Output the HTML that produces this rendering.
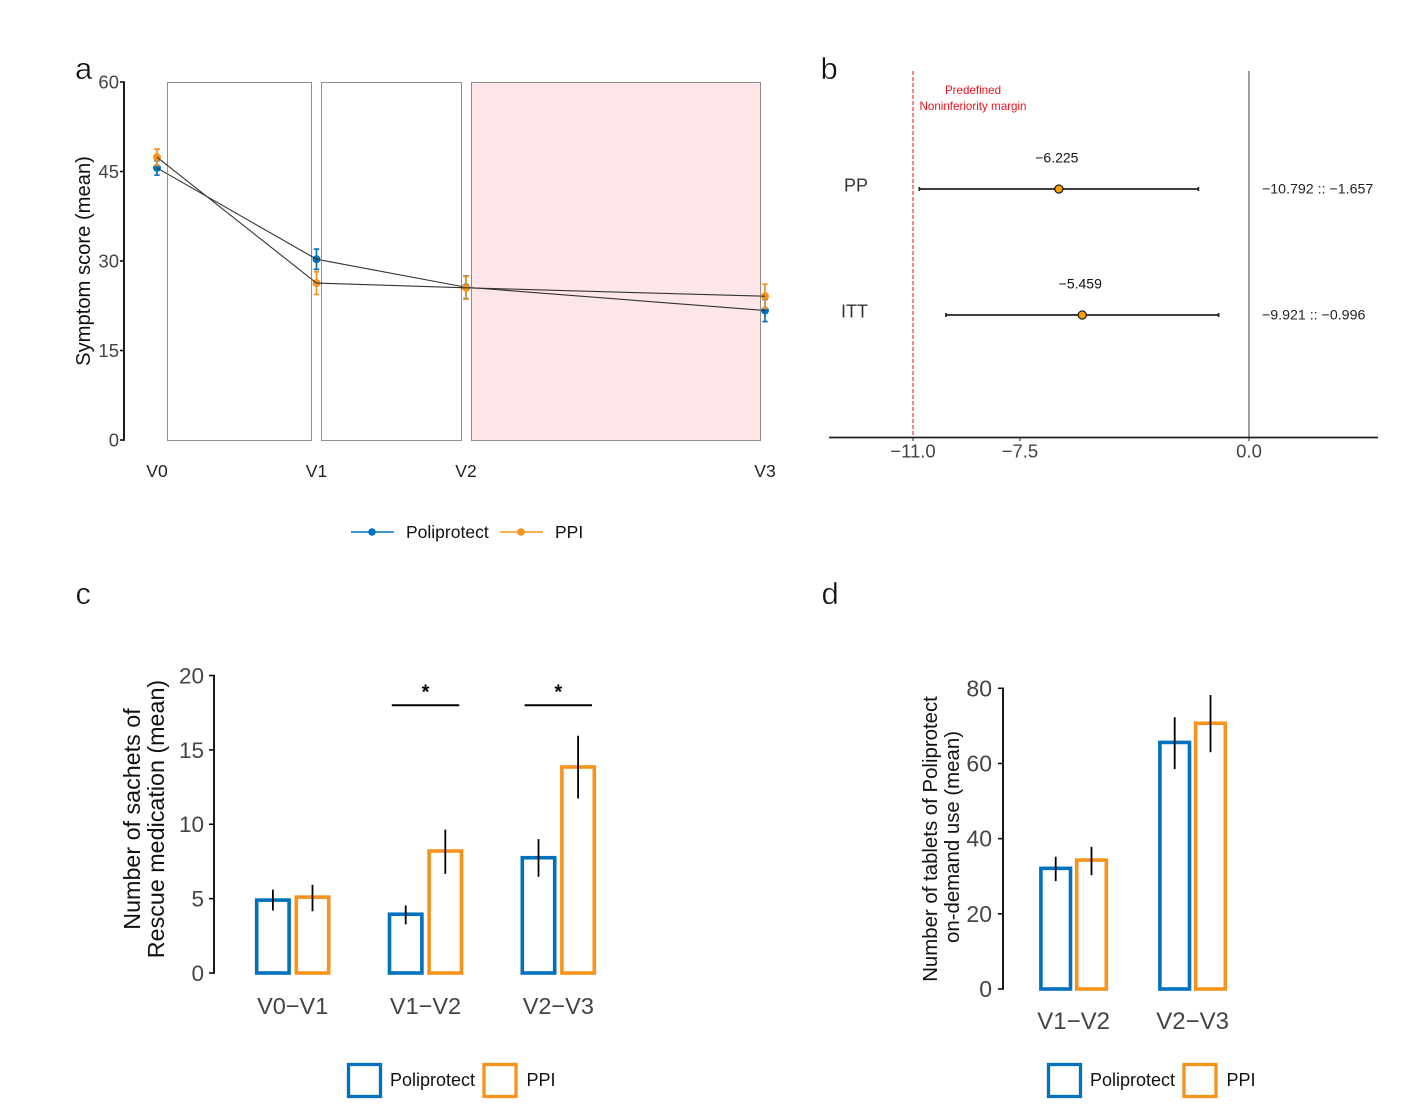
<!DOCTYPE html>
<html lang="en">
<head>
<meta charset="utf-8">
<title>Symptom score and medication use</title>
<style>
  html, body { margin: 0; padding: 0; background: #fff; }
  #figure { display: block; width: 1402px; height: 1114px; font-family: "Liberation Sans", sans-serif; filter: blur(0.35px); }
  text { font-family: "Liberation Sans", sans-serif; }
  .panel-letter { stroke: #fff; stroke-width: 0.45; fill: #111; }
</style>
</head>
<body>
<svg id="figure" xmlns="http://www.w3.org/2000/svg" width="1402" height="1114" viewBox="0 0 1402 1114">
  <rect x="0" y="0" width="1402" height="1114" fill="#ffffff"/>

  <text class="panel-letter" x="75" y="79" font-size="31">a</text>
  <text class="panel-letter" x="820.5" y="79" font-size="31">b</text>
  <text class="panel-letter" x="75.5" y="604" font-size="31">c</text>
  <text class="panel-letter" x="821.5" y="604" font-size="31">d</text>

  <g id="panel-a"></g>
  <g id="panel-b"></g>
  <g id="panel-c"></g>
  <g id="panel-d"></g>

  <text transform="translate(90,261) rotate(-90)" text-anchor="middle" font-size="20.2" fill="#111">Symptom score (mean)</text>
  <text transform="translate(140,819) rotate(-90)" text-anchor="middle" font-size="23.3" fill="#111">Number of sachets of</text>
  <text transform="translate(164,819) rotate(-90)" text-anchor="middle" font-size="23.3" fill="#111">Rescue medication (mean)</text>
  <text transform="translate(937,839) rotate(-90)" text-anchor="middle" font-size="20.4" fill="#111">Number of tablets of Poliprotect</text>
  <text transform="translate(959,837) rotate(-90)" text-anchor="middle" font-size="20.4" fill="#111">on-demand use (mean)</text>

  <g>
    <line x1="351" y1="532" x2="394" y2="532" stroke="#0072BD" stroke-width="1.5"/>
    <circle cx="372" cy="532" r="3.8" fill="#0072BD"/>
    <text x="406" y="538" font-size="17.5" fill="#111">Poliprotect</text>
    <line x1="500" y1="532" x2="543" y2="532" stroke="#F7931A" stroke-width="1.5"/>
    <circle cx="521" cy="532" r="3.8" fill="#F7931A"/>
    <text x="555" y="538" font-size="17.5" fill="#111">PPI</text>
  </g>

  <g>
    <rect x="348.5" y="1064.5" width="32" height="32" fill="none" stroke="#0072BD" stroke-width="3.3"/>
    <text x="390" y="1086" font-size="18" fill="#111">Poliprotect</text>
    <rect x="484" y="1064.5" width="32" height="32" fill="none" stroke="#F7931A" stroke-width="3.3"/>
    <text x="526.5" y="1086" font-size="18" fill="#111">PPI</text>
  </g>

  <g>
    <rect x="1048.5" y="1064.5" width="32" height="32" fill="none" stroke="#0072BD" stroke-width="3.3"/>
    <text x="1090" y="1086" font-size="18" fill="#111">Poliprotect</text>
    <rect x="1184" y="1064.5" width="32" height="32" fill="none" stroke="#F7931A" stroke-width="3.3"/>
    <text x="1226.5" y="1086" font-size="18" fill="#111">PPI</text>
  </g>
</svg>

<script>
// ---------- Panel a data ----------
const visitLabels = ['V0', 'V1', 'V2', 'V3'];
const visitDays = [0, 16, 31, 61];
const symptomTicks = [0, 15, 30, 45, 60];
const poliprotectScore = [45.6, 30.3, 25.6, 21.7];
const poliprotectScoreErr = [1.2, 1.7, 1.9, 1.85];
const ppiScore = [47.4, 26.3, 25.5, 24.1];
const ppiScoreErr = [1.35, 1.9, 1.9, 2.0];
const periodStartDay = [1, 16.5, 31.5];
const periodEndDay = [15.5, 30.5, 60.5];
const periodShaded = [false, false, true];

// ---------- Panel b data ----------
const forestLabels = ['PP', 'ITT'];
const forestMean = [-6.225, -5.459];
const forestLow = [-10.792, -9.921];
const forestHigh = [-1.657, -0.996];
const forestTicks = [-11, -7.5, 0];
const forestTickLabels = ['−11.0', '−7.5', '0.0'];
const forestMeanLabels = ['−6.225', '−5.459'];
const forestRangeLabels = ['−10.792 :: −1.657', '−9.921 :: −0.996'];
const noninferiorityMargin = -11;

// ---------- Panel c data ----------
const rescuePeriods = ['V0−V1', 'V1−V2', 'V2−V3'];
const rescueTicks = [0, 5, 10, 15, 20];
const rescuePoliprotect = [4.9, 3.95, 7.75];
const rescuePoliprotectLow = [4.2, 3.27, 6.47];
const rescuePoliprotectHigh = [5.6, 4.54, 9.0];
const rescuePpi = [5.1, 8.2, 13.85];
const rescuePpiLow = [4.15, 6.67, 11.73];
const rescuePpiHigh = [5.93, 9.64, 15.95];
const rescueSignificance = [null, 18, 18];

// ---------- Panel d data ----------
const tabletPeriods = ['V1−V2', 'V2−V3'];
const tabletTicks = [0, 20, 40, 60, 80];
const tabletPoliprotect = [32.1, 65.6];
const tabletPoliprotectLow = [28.7, 58.5];
const tabletPoliprotectHigh = [35.2, 72.3];
const tabletPpi = [34.3, 70.7];
const tabletPpiLow = [30.3, 63];
const tabletPpiHigh = [37.8, 78.2];

const BLUE = '#0072BD';
const ORANGE = '#F7931A';
const NS = 'http://www.w3.org/2000/svg';

function mk(tag, attrs, parent, content) {
  const el = document.createElementNS(NS, tag);
  for (const k in attrs) el.setAttribute(k, attrs[k]);
  if (content !== undefined) el.textContent = content;
  parent.appendChild(el);
  return el;
}

function linear(d0, d1, r0, r1) {
  return function (v) { return r0 + (v - d0) * (r1 - r0) / (d1 - d0); };
}

function drawYAxis(parent, axisX, scale, ticks, fontSize, labelGap, tickLen) {
  const axis = mk('line', { x1: axisX, x2: axisX, y1: scale(ticks[0]) + 0.75, y2: scale(ticks[ticks.length - 1]) - 0.75, stroke: '#000', 'stroke-width': 1.8 }, parent);
  
  
  ticks.forEach(function (t) {
    const tick = mk('line', { x1: axisX - tickLen, x2: axisX, y1: scale(t), y2: scale(t), stroke: '#000', 'stroke-width': 1.5 }, parent);
    
    
    const label = mk('text', { x: axisX - labelGap, y: scale(t) + fontSize * 0.35, 'text-anchor': 'end', 'font-size': fontSize, fill: '#444' }, parent, String(t));
    
    
  });
}

// ---------- Panel a ----------
(function () {
  const g = document.getElementById('panel-a');
  const x = linear(0, 61, 157, 765);
  const y = linear(0, 60, 440, 82);

  periodStartDay.forEach(function (s, i) {
    const left = Math.round(x(s)) + 0.5;
    const right = Math.round(x(periodEndDay[i])) + 0.5;
    const top = Math.round(y(60)) + 0.5;
    const bottom = Math.round(y(0)) + 0.5;
    const box = mk('rect', { x: left, y: top, width: right - left, height: bottom - top, fill: periodShaded[i] ? '#FEE6E8' : 'none', stroke: '#222', 'stroke-width': 1, 'stroke-dasharray': '1 1' }, g);
    
    
  });

  drawYAxis(g, 124, y, symptomTicks, 18.5, 5, 4);

  visitLabels.forEach(function (v, i) {
    const label = mk('text', { x: x(visitDays[i]), y: 477, 'text-anchor': 'middle', 'font-size': 17.5, fill: '#222' }, g, v);
    
    
  });

  function series(values, errs, color, name) {
    errs.forEach(function (e, i) {
      const cx = x(visitDays[i]);
      const bar = mk('path', {
        d: 'M' + (cx - 2.7) + ' ' + y(values[i] + e) + 'H' + (cx + 2.7) + 'M' + cx + ' ' + y(values[i] + e) + 'V' + y(values[i] - e) + 'M' + (cx - 2.7) + ' ' + y(values[i] - e) + 'H' + (cx + 2.7),
        fill: 'none', stroke: color, 'stroke-width': 1.7
      }, g);
      
      
    });
    values.forEach(function (v, i) {
      const dot = mk('circle', { cx: x(visitDays[i]), cy: y(v), r: 4, fill: color }, g);
      
      
    });
    const line = mk('polyline', { points: values.map(function (v, i) { return x(visitDays[i]) + ',' + y(v); }).join(' '), fill: 'none', stroke: '#333', 'stroke-width': 1.1 }, g);
    
    
  }
  series(poliprotectScore, poliprotectScoreErr, BLUE, 'poliprotect');
  series(ppiScore, ppiScoreErr, ORANGE, 'ppi');
})();

// ---------- Panel b ----------
(function () {
  const g = document.getElementById('panel-b');
  const x = linear(-11, 0, 913, 1249);
  const rowY = [189, 315];

  const margin = mk('line', { x1: x(noninferiorityMargin), x2: x(noninferiorityMargin), y1: 71, y2: 437, stroke: '#F0343C', 'stroke-width': 1.2, 'stroke-dasharray': '4 2' }, g);
  
  

  const zero = mk('line', { x1: x(0), x2: x(0), y1: 71, y2: 437, stroke: '#8c8c8c', 'stroke-width': 1.7 }, g);
  
  

  const axis = mk('line', { x1: 829, x2: 1378, y1: 437.5, y2: 437.5, stroke: '#222', 'stroke-width': 1.7 }, g);
  
  

  forestTicks.forEach(function (t, i) {
    const tick = mk('line', { x1: x(t), x2: x(t), y1: 437.5, y2: 441, stroke: '#222', 'stroke-width': 1 }, g);
    
    
    const label = mk('text', { x: x(t), y: 457.5, 'text-anchor': 'middle', 'font-size': 18.5, fill: '#444' }, g, forestTickLabels[i]);
    
    
  });

  const marginLabel1 = mk('text', { x: 973, y: 94, 'text-anchor': 'middle', 'font-size': 11.6, fill: '#F0101C' }, g, 'Predefined');
  
  
  const marginLabel2 = mk('text', { x: 973, y: 110, 'text-anchor': 'middle', 'font-size': 11.6, fill: '#F0101C' }, g, 'Noninferiority margin');
  
  

  forestLabels.forEach(function (name, i) {
    const yy = rowY[i];
    const label = mk('text', { x: i === 0 ? 844 : 841, y: yy + 2.5, 'font-size': 18, fill: '#333' }, g, name);
    
    

    const ci = mk('path', {
      d: 'M' + x(forestLow[i]) + ' ' + (yy - 2) + 'V' + (yy + 2) + 'M' + x(forestLow[i]) + ' ' + yy + 'H' + x(forestHigh[i]) + 'M' + x(forestHigh[i]) + ' ' + (yy - 2) + 'V' + (yy + 2),
      fill: 'none', stroke: '#222', 'stroke-width': 1.7
    }, g);
    
    

    const dot = mk('circle', { cx: x(forestMean[i]), cy: yy, r: 4.1, fill: '#F7A000', stroke: '#111', 'stroke-width': 1.1 }, g);
    
    

    const meanLabel = mk('text', { x: x(forestMean[i]) - 2, y: yy - 26.5, 'text-anchor': 'middle', 'font-size': 14, fill: '#111' }, g, forestMeanLabels[i]);
    
    

    const rangeLabel = mk('text', { x: 1262, y: yy + 4.5, 'font-size': 14.2, fill: '#222' }, g, forestRangeLabels[i]);
    
    
  });
})();

// ---------- Bar panels ----------
function drawBars(g, opt) {
  const y = opt.y;
  drawYAxis(g, opt.axisX, y, opt.ticks, opt.tickFont, opt.labelGap, 5);
  opt.categories.forEach(function (cat, i) {
    const center = opt.firstCenter + i * opt.spacing;
    const label = mk('text', { x: center, y: opt.catBaseline, 'text-anchor': 'middle', 'font-size': opt.catFont, fill: '#444' }, g, cat);
    
    

    [
      { v: opt.blue[i], lo: opt.blueLow[i], hi: opt.blueHigh[i], c: BLUE, n: 'poliprotect', dx: -opt.dodge / 2 },
      { v: opt.orange[i], lo: opt.orangeLow[i], hi: opt.orangeHigh[i], c: ORANGE, n: 'ppi', dx: opt.dodge / 2 }
    ].forEach(function (s) {
      const cx = center + s.dx;
      const bar = mk('rect', { x: cx - opt.barWidth / 2, y: y(s.v), width: opt.barWidth, height: y(0) - y(s.v), fill: 'none', stroke: s.c, 'stroke-width': 3.6 }, g);
      
      
      const err = mk('line', { x1: cx, x2: cx, y1: y(s.hi), y2: y(s.lo), stroke: '#000', 'stroke-width': 1.8 }, g);
      
      
    });
  });
}

drawBars(document.getElementById('panel-c'), {
  y: linear(0, 20, 973, 675.5), axisX: 214, ticks: rescueTicks, tickFont: 22.5, catFont: 23.5, labelGap: 10,
  categories: rescuePeriods, firstCenter: 292.7, spacing: 132.8, dodge: 39.6, barWidth: 32.4, catBaseline: 1014,
  blue: rescuePoliprotect, blueLow: rescuePoliprotectLow, blueHigh: rescuePoliprotectHigh,
  orange: rescuePpi, orangeLow: rescuePpiLow, orangeHigh: rescuePpiHigh
});

drawBars(document.getElementById('panel-d'), {
  y: linear(0, 80, 989, 688.3), axisX: 1003, ticks: tabletTicks, tickFont: 23, catFont: 24, labelGap: 11,
  categories: tabletPeriods, firstCenter: 1073.6, spacing: 119, dodge: 35.8, barWidth: 29.6, catBaseline: 1029,
  blue: tabletPoliprotect, blueLow: tabletPoliprotectLow, blueHigh: tabletPoliprotectHigh,
  orange: tabletPpi, orangeLow: tabletPpiLow, orangeHigh: tabletPpiHigh
});

// ---------- Significance brackets (panel c) ----------
(function () {
  const g = document.getElementById('panel-c');
  const y = linear(0, 20, 973, 675.5);
  rescueSignificance.forEach(function (level, i) {
    if (level === null) return;
    const center = 292.7 + i * 132.8;
    const line = mk('line', { x1: center - 33.7, x2: center + 33.7, y1: y(level), y2: y(level), stroke: '#000', 'stroke-width': 1.9 }, g);
    
    
    const star = mk('text', { x: center, y: y(level) - 7, 'text-anchor': 'middle', 'font-size': 20, 'font-weight': 'bold', fill: '#000' }, g, '*');
    
    
  });
})();
</script>
</body>
</html>
